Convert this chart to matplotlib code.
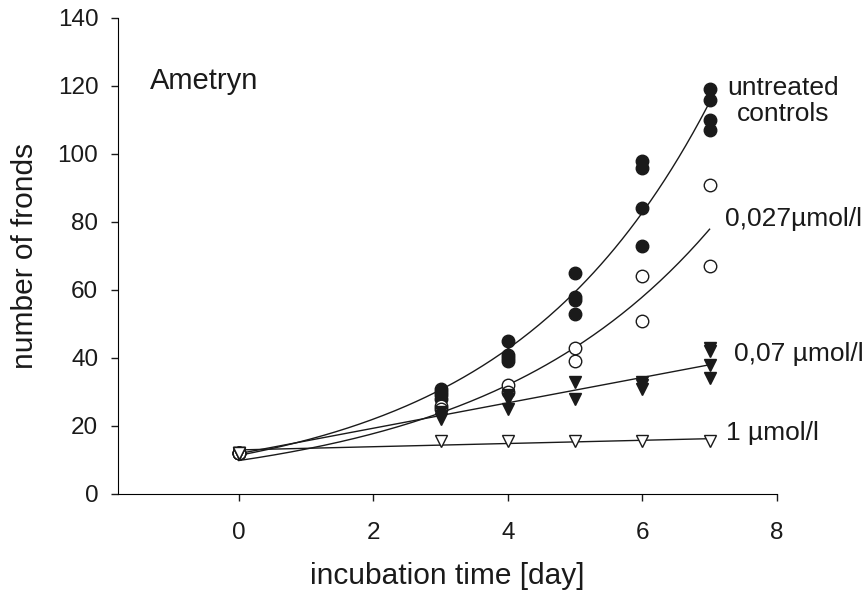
import numpy as np
import matplotlib
matplotlib.use('Agg')
from matplotlib import pyplot as plt

plt.rcParams['font.family'] = ['Liberation Sans', 'DejaVu Sans']

# untreated controls (filled circles)
ctrl_days = [0, 0, 0, 0, 3, 3, 3, 3, 4, 4, 4, 4, 5, 5, 5, 5, 6, 6, 6, 6, 7, 7, 7, 7]
ctrl_fronds = [12, 12, 12, 12, 31, 30, 29, 28, 45, 41, 40, 39, 65, 58, 57, 53, 98, 96, 84, 73, 119, 116, 110, 107]

# 0,027 umol/l (open circles)
low_days = [0, 0, 3, 3, 4, 4, 5, 5, 6, 6, 7, 7]
low_fronds = [12, 12, 26, 25, 32, 30, 43, 39, 64, 51, 91, 67]

# 0,07 umol/l (filled triangles)
mid_days = [0, 0, 0, 3, 3, 3, 4, 4, 4, 5, 5, 6, 6, 6, 7, 7, 7, 7]
mid_fronds = [12, 12, 12, 24, 23, 22, 29, 28, 25, 33, 28, 33, 32, 31, 43, 42, 38, 34]

# 1 umol/l (open triangles)
high_days = [0, 3, 4, 5, 6, 7]
high_fronds = [12, 15.5, 15.5, 15.5, 15.5, 15.5]


def exp_fit(x, y):
    # least squares y = a*exp(b*x), simple search over b
    x = np.asarray(x, float)
    y = np.asarray(y, float)
    best = None
    for b in np.linspace(0.01, 0.6, 2000):
        e = np.exp(b * x)
        a = np.sum(y * e) / np.sum(e * e)
        sse = np.sum((y - a * e) ** 2)
        if best is None or sse < best[0]:
            best = (sse, a, b)
    return best[1], best[2]


fig = plt.figure(figsize=(8.67, 5.98), dpi=100)
ax = fig.add_axes([0.1358, 0.174, 0.7602, 0.796])

xx = np.linspace(0, 7, 200)
for days, vals in [(ctrl_days, ctrl_fronds), (low_days, low_fronds)]:
    a, b = exp_fit(days, vals)
    ax.plot(xx, a * np.exp(b * xx), color='#1a1a1a', lw=1.0, zorder=2)
for days, vals in [(mid_days, mid_fronds), (high_days, high_fronds)]:
    k, d = np.polyfit(days, vals, 1)
    ax.plot(xx, k * xx + d, color='#1a1a1a', lw=1.0, zorder=2)

ax.plot(ctrl_days, ctrl_fronds, 'o', ms=9, mfc='#1a1a1a', mec='#1a1a1a', ls='none', zorder=3)
ax.plot(low_days, low_fronds, 'o', ms=9, mfc='white', mec='#1a1a1a', mew=1.0, ls='none', zorder=3)
ax.plot(mid_days, mid_fronds, 'v', ms=9, mfc='#1a1a1a', mec='#1a1a1a', ls='none', zorder=3)
ax.plot(high_days, high_fronds, 'v', ms=9, mfc='white', mec='#1a1a1a', mew=1.0, ls='none', zorder=3)

ax.set_xlim(-1.8, 8)
ax.set_ylim(0, 140)
ax.set_xticks([0, 2, 4, 6, 8])
ax.set_yticks(range(0, 141, 20))
ax.spines['top'].set_visible(False)
ax.spines['right'].set_visible(False)
ax.tick_params(direction='out', length=5, width=1, labelsize=17.5, pad=9, colors='#1a1a1a')
ax.tick_params(axis='x', pad=15)

ax.set_xlabel('incubation time [day]', fontsize=21.5, va='center', color='#1a1a1a')
ax.xaxis.set_label_coords(0.5, -0.172)
ax.set_ylabel('number of fronds', fontsize=21.5, va='center', color='#1a1a1a')
ax.yaxis.set_label_coords(-0.1406, 0.5)

ax.text(-1.32, 121.5, 'Ametryn', fontsize=21, va='center', ha='left', color='#1a1a1a')
ax.text(8.1, 115.6, 'untreated\ncontrols', fontsize=19, va='center', ha='center',
        linespacing=1.1, color='#1a1a1a', clip_on=False)
ax.text(7.23, 81, '0,027µmol/l', fontsize=19, va='center', ha='left', color='#1a1a1a', clip_on=False)
ax.text(7.37, 41.3, '0,07 µmol/l', fontsize=19, va='center', ha='left', color='#1a1a1a', clip_on=False)
ax.text(7.24, 17.8, '1 µmol/l', fontsize=19, va='center', ha='left', color='#1a1a1a', clip_on=False)

plt.savefig('out.png', dpi=100)
